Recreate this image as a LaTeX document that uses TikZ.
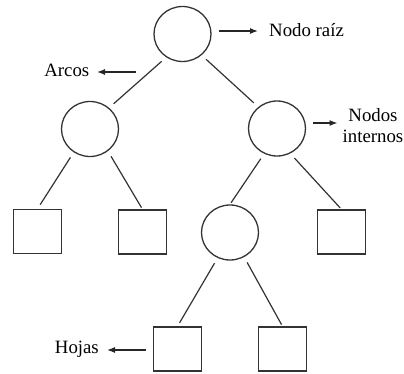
\documentclass[tikz,border=0pt]{standalone}
\usepackage{fontspec}
\setmainfont{Liberation Serif}
\usetikzlibrary{shapes.geometric,arrows.meta}
\begin{document}
\begin{tikzpicture}[x=1pt,y=-1pt,
  inner/.style={draw=black!80, ellipse, line width=1.3pt, inner sep=0pt,
    minimum width=57pt, minimum height=55pt},
  leaf/.style={draw=black!80, rectangle, line width=1.3pt, inner sep=0pt,
    minimum width=47.5pt, minimum height=44pt},
  edge/.style={line width=1.2pt, draw=black!80},
  pointer/.style={line width=1.2pt, draw=black!85, -{Latex[length=8pt,width=6pt]}},
  lbl/.style={font=\fontsize{18.8}{21}\selectfont, inner sep=0pt}
]
\useasboundingbox (0,0) rectangle (404,374);

% tree nodes
\node[inner] (root)  at (182.5,34)  {};
\node[inner] (left)  at (90,129)    {};
\node[inner] (right) at (277,128.5) {};
\node[inner] (mid)   at (230,232.5) {};
\node[leaf]  (l1)    at (37.5,231.5) {};
\node[leaf]  (l2)    at (142.5,232)  {};
\node[leaf]  (l3)    at (341.5,232)  {};
\node[leaf]  (l4)    at (177.5,349)  {};
\node[leaf]  (l5)    at (282.5,349)  {};

% arcs
\draw[edge, shorten <=6pt, shorten >=6pt] (root.235) -- (left.48);
\draw[edge, shorten <=6pt, shorten >=6pt] (root.312) -- (right.131);
\draw[edge, shorten <=6pt, shorten >=5pt] (left.235) -- (l1.north);
\draw[edge, shorten <=6pt, shorten >=2pt] (left.309) -- (l2.north);
\draw[edge, shorten <=6pt, shorten >=2pt] (right.243) -- (mid.north);
\draw[edge, shorten <=6pt, shorten >=2pt] (right.298) -- (l3.north);
\draw[edge, shorten <=6pt, shorten >=4pt] (mid.244) -- (l4.north);
\draw[edge, shorten <=6pt, shorten >=2pt] (mid.300) -- (l5.north);

% labels
\node[lbl, anchor=base west] (troot) at (269,37) {Nodo raíz};
\node[lbl, anchor=base east] (tarc)  at (89.5,76.7) {Arcos};
\node[lbl, anchor=base east] (thoj)  at (99,353.3) {Hojas};
\node[lbl, anchor=north, align=center] (tint) at (373,108) {Nodos\\internos};

% pointers
\coordinate (p1) at (219,31);
\coordinate (p2) at (136,72);
\coordinate (p3) at (313,123);
\coordinate (p4) at (146,350);
\draw[pointer, shorten >=11pt] (p1) -- (p1 -| troot.west);
\draw[pointer, shorten >=7.5pt] (p2) -- (p2 -| tarc.east);
\draw[pointer, shorten >=5pt] (p3) -- (p3 -| tint.west);
\draw[pointer, shorten >=8pt] (p4) -- (p4 -| thoj.east);
\end{tikzpicture}
\end{document}
